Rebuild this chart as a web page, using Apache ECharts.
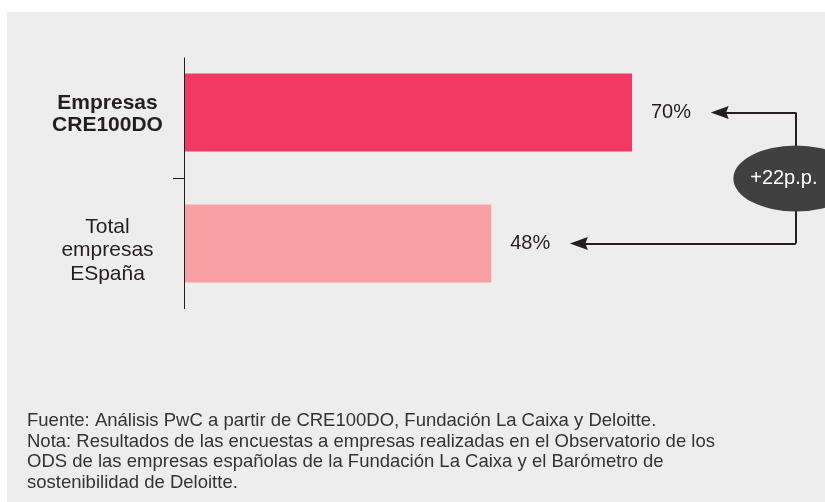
<!DOCTYPE html>
<html><head><meta charset="utf-8">
<script src="https://cdn.jsdelivr.net/npm/echarts@6/dist/echarts.min.js"></script>
<style>html,body{margin:0;padding:0;background:#fff}#c{width:825px;height:502px}</style>
</head><body><div id="c"></div>
<script>
// ---- data ----
const categories = ['Empresas\nCRE100DO', 'Total\nempresas\nESpaña'];
const values = [70, 48];
const barColors = ['#F03A62', '#F7A1A5'];
const valueSuffix = '%';
const diffSuffix = 'p.p.';
const footnoteLines = [
  'Fuente: Análisis PwC a partir de CRE100DO, Fundación La Caixa y Deloitte.',
  'Nota: Resultados de las encuestas a empresas realizadas en el Observatorio de los',
  'ODS de las empresas españolas de la Fundación La Caixa y el Barómetro de',
  'sostenibilidad de Deloitte.'
];

// ---- styling ----
const FONT = "'Liberation Sans', Arial, Helvetica, sans-serif";
const INK = '#231f20';
const bracketX = 95.6;   // x (in value units) of the bracket
const arrowGap = 13.7;   // gap between bar value and arrow line end
const arrowPath = 'path://M50,0 L100,100 L50,86 L0,100 Z';
const diff = values[0] - values[1];

const chart = echarts.init(document.getElementById('c'), null, {renderer: 'canvas'});

const option = {
  animation: false,
  backgroundColor: '#ffffff',
  textStyle: {fontFamily: FONT},
  title: {
    text: footnoteLines.join('\n'),
    left: 27, top: 411, padding: 0,
    textStyle: {fontFamily: FONT, fontSize: 18.5, lineHeight: 20.5, fontWeight: 'normal', color: '#333333'}
  },
  graphic: [{
    id: 'panel', type: 'rect', z: -10, silent: true,
    shape: {x: 7, y: 12, width: 830, height: 500},
    style: {fill: '#ededed'}
  }],
  grid: {left: 184, right: 1, top: 47, bottom: 193, containLabel: false},
  xAxis: {type: 'value', min: 0, max: 100, show: false},
  yAxis: {
    type: 'category', inverse: true,
    data: categories,
    axisLine: {show: false},
    axisTick: {show: false},
    splitLine: {show: false},
    axisLabel: {
      align: 'center', margin: 76.5, fontSize: 21, color: INK, fontFamily: FONT,
      formatter: (val, idx) => {
        const lines = val.split('\n');
        if (idx === 0) return '{s0| }\n' + lines.map(l => '{b|' + l + '}').join('\n');
        return '{s1| }\n' + lines.map(l => '{n|' + l + '}').join('\n');
      },
      rich: {
        b: {fontWeight: 'bold', fontSize: 21, lineHeight: 22, color: INK, fontFamily: FONT, align: 'center'},
        n: {fontWeight: 'normal', fontSize: 21, lineHeight: 23.5, color: INK, fontFamily: FONT, align: 'center'},
        s0: {fontSize: 2, lineHeight: 3},
        s1: {fontSize: 2, lineHeight: 14}
      }
    }
  },
  series: [{
    type: 'bar',
    barWidth: 78,
    silent: true,
    data: values.map((v, i) => ({value: v, itemStyle: {color: barColors[i]}})),
    label: {
      show: true, position: 'right', distance: 19,
      formatter: p => p.value + valueSuffix,
      fontSize: 20, color: INK, fontFamily: FONT
    },
    markLine: {
      silent: true,
      symbol: ['none', arrowPath],
      symbolSize: [13, 18],
      label: {show: false},
      lineStyle: {color: INK, width: 2, type: 'solid'},
      emphasis: {disabled: true},
      data: [
        [{coord: [bracketX, 0]}, {coord: [values[0] + arrowGap, 0]}],
        [{coord: [bracketX, 0], symbol: 'none'}, {coord: [bracketX, 1], symbol: 'none'}],
        [{coord: [bracketX, 1]}, {coord: [values[1] + arrowGap, 1]}]
      ]
    },
    markPoint: {
      silent: true, z: 10,
      data: [{
        coord: [bracketX, 1],
        symbol: 'path://M0,50 A50,50 0 1,1 100,50 A50,50 0 1,1 0,50 Z',
        symbolSize: [125, 66],
        symbolOffset: [0, -65],
        itemStyle: {color: '#404040'},
        label: {
          show: true, position: 'inside', offset: [-12, 0],
          formatter: '+' + diff + diffSuffix,
          color: '#ffffff', fontSize: 20, fontFamily: FONT
        }
      }]
    }
  }]
};
chart.setOption(option);

// Axis line and middle tick positioned through the library's scales
const x0 = chart.convertToPixel({xAxisIndex: 0}, 0);
const c1 = chart.convertToPixel({yAxisIndex: 0}, categories[0]);
const c2 = chart.convertToPixel({yAxisIndex: 0}, categories[1]);
const band = c2 - c1;
chart.setOption({
  graphic: [
    {id: 'panel', type: 'rect', z: -10, silent: true, shape: {x: 7, y: 12, width: 830, height: 500}, style: {fill: '#ededed'}},
    {id: 'axis', type: 'line', z: 5, silent: true,
      shape: {x1: x0 + 0.5, y1: c1 - band * 0.42, x2: x0 + 0.5, y2: c2 + band * 0.5},
      style: {stroke: INK, lineWidth: 1}},
    {id: 'tick', type: 'line', z: 5, silent: true,
      shape: {x1: x0 - 11, y1: Math.round((c1 + c2) / 2) + 0.5, x2: x0, y2: Math.round((c1 + c2) / 2) + 0.5},
      style: {stroke: INK, lineWidth: 1}}
  ]
});
</script></body></html>
